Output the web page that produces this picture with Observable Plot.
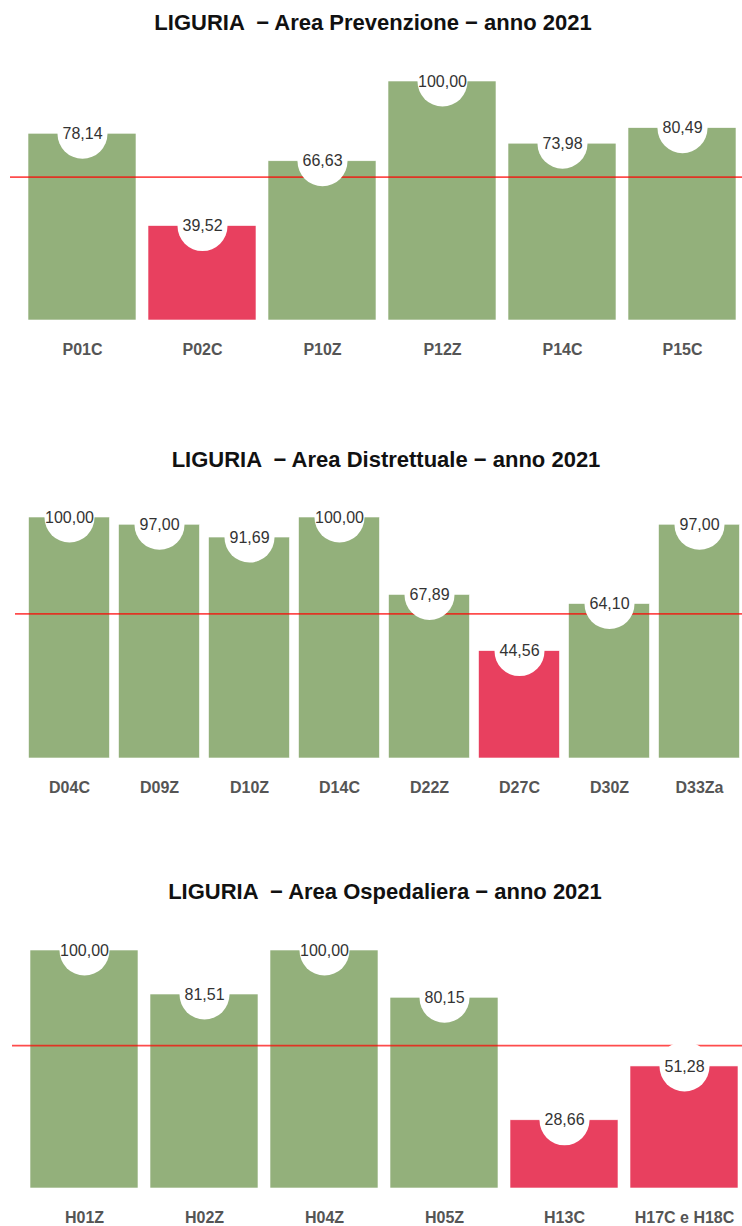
<!DOCTYPE html>
<html>
<head>
<meta charset="utf-8">
<script src="https://cdn.jsdelivr.net/npm/d3@7"></script>
<script src="https://cdn.jsdelivr.net/npm/@observablehq/plot@0.6"></script>
<style>
  html, body { margin: 0; padding: 0; background: #fff; }
  body { width: 742px; height: 1226px; position: relative; overflow: hidden; font-family: "Liberation Sans", Arial, sans-serif; }
  .title { position: absolute; font-weight: bold; font-size: 22px; color: #111; white-space: pre; text-align: center; width: 600px; line-height: 26px; }
  .panel { position: absolute; left: 0; }
  svg { overflow: visible; }
</style>
</head>
<body>
<script>
const threshold = 60;

const prevTitle = "LIGURIA  − Area Prevenzione − anno 2021";
const prevCategories = ["P01C", "P02C", "P10Z", "P12Z", "P14C", "P15C"];
const prevValues = [78.14, 39.52, 66.63, 100.00, 73.98, 80.49];

const distTitle = "LIGURIA  − Area Distrettuale − anno 2021";
const distCategories = ["D04C", "D09Z", "D10Z", "D14C", "D22Z", "D27C", "D30Z", "D33Za"];
const distValues = [100.00, 97.00, 91.69, 100.00, 67.89, 44.56, 64.10, 97.00];

const ospTitle = "LIGURIA  − Area Ospedaliera − anno 2021";
const ospCategories = ["H01Z", "H02Z", "H04Z", "H05Z", "H13C", "H17C e H18C"];
const ospValues = [100.00, 81.51, 100.00, 80.15, 28.66, 51.28];

const GREEN = "#93b07b";
const RED = "#e8405f";

function panel({title, categories, values, titleCenterX, titleY, top, height, marginTop, marginBottom, range, lineX1}) {
  const t = document.createElement("div");
  t.className = "title";
  t.textContent = title;
  t.style.left = (titleCenterX - 300) + "px";
  t.style.top = (titleY - 13) + "px";
  document.body.appendChild(t);

  const data = categories.map((c, i) => ({cat: c, value: values[i]}));
  const chart = Plot.plot({
    width: 742,
    height,
    marginTop,
    marginBottom,
    marginLeft: lineX1,
    marginRight: 0,
    style: {fontFamily: "Liberation Sans, Arial, sans-serif", overflow: "visible"},
    x: {domain: categories, range, paddingInner: 0.1, paddingOuter: 0.15, round: false, label: null},
    y: {domain: [0, 100], axis: null},
    marks: [
      Plot.barY(data, {x: "cat", y: "value", fill: d => d.value < threshold ? RED : GREEN, stroke: "#ffffff", strokeWidth: 0.6}),
      Plot.ruleY([threshold], {stroke: "#ff0000", strokeOpacity: 0.7, strokeWidth: 1.8}),
      Plot.dot(data, {x: "cat", y: "value", r: 25, fill: "white", stroke: "none"}),
      Plot.text(data, {x: "cat", y: "value", text: d => d.value.toFixed(2).replace(".", ","), fontSize: 16, fill: "#333", lineAnchor: "middle", dy: 0}),
      Plot.axisX({tickSize: 0, tickPadding: 23, fontSize: 16, fontWeight: "bold", fill: "#555", label: null})
    ]
  });
  const wrap = document.createElement("div");
  wrap.className = "panel";
  wrap.style.top = top + "px";
  wrap.appendChild(chart);
  document.body.appendChild(wrap);
}

panel({title: prevTitle, categories: prevCategories, values: prevValues,
  titleCenterX: 373, titleY: 23, top: 50, height: 320, marginTop: 31, marginBottom: 50,
  range: [10, 754], lineX1: 10});

panel({title: distTitle, categories: distCategories, values: distValues,
  titleCenterX: 386, titleY: 460, top: 480, height: 328, marginTop: 37, marginBottom: 50,
  range: [15, 753], lineX1: 15});

panel({title: ospTitle, categories: ospCategories, values: ospValues,
  titleCenterX: 385, titleY: 892, top: 910, height: 316, marginTop: 40, marginBottom: 38,
  range: [12, 756], lineX1: 12});
</script>
</body>
</html>
